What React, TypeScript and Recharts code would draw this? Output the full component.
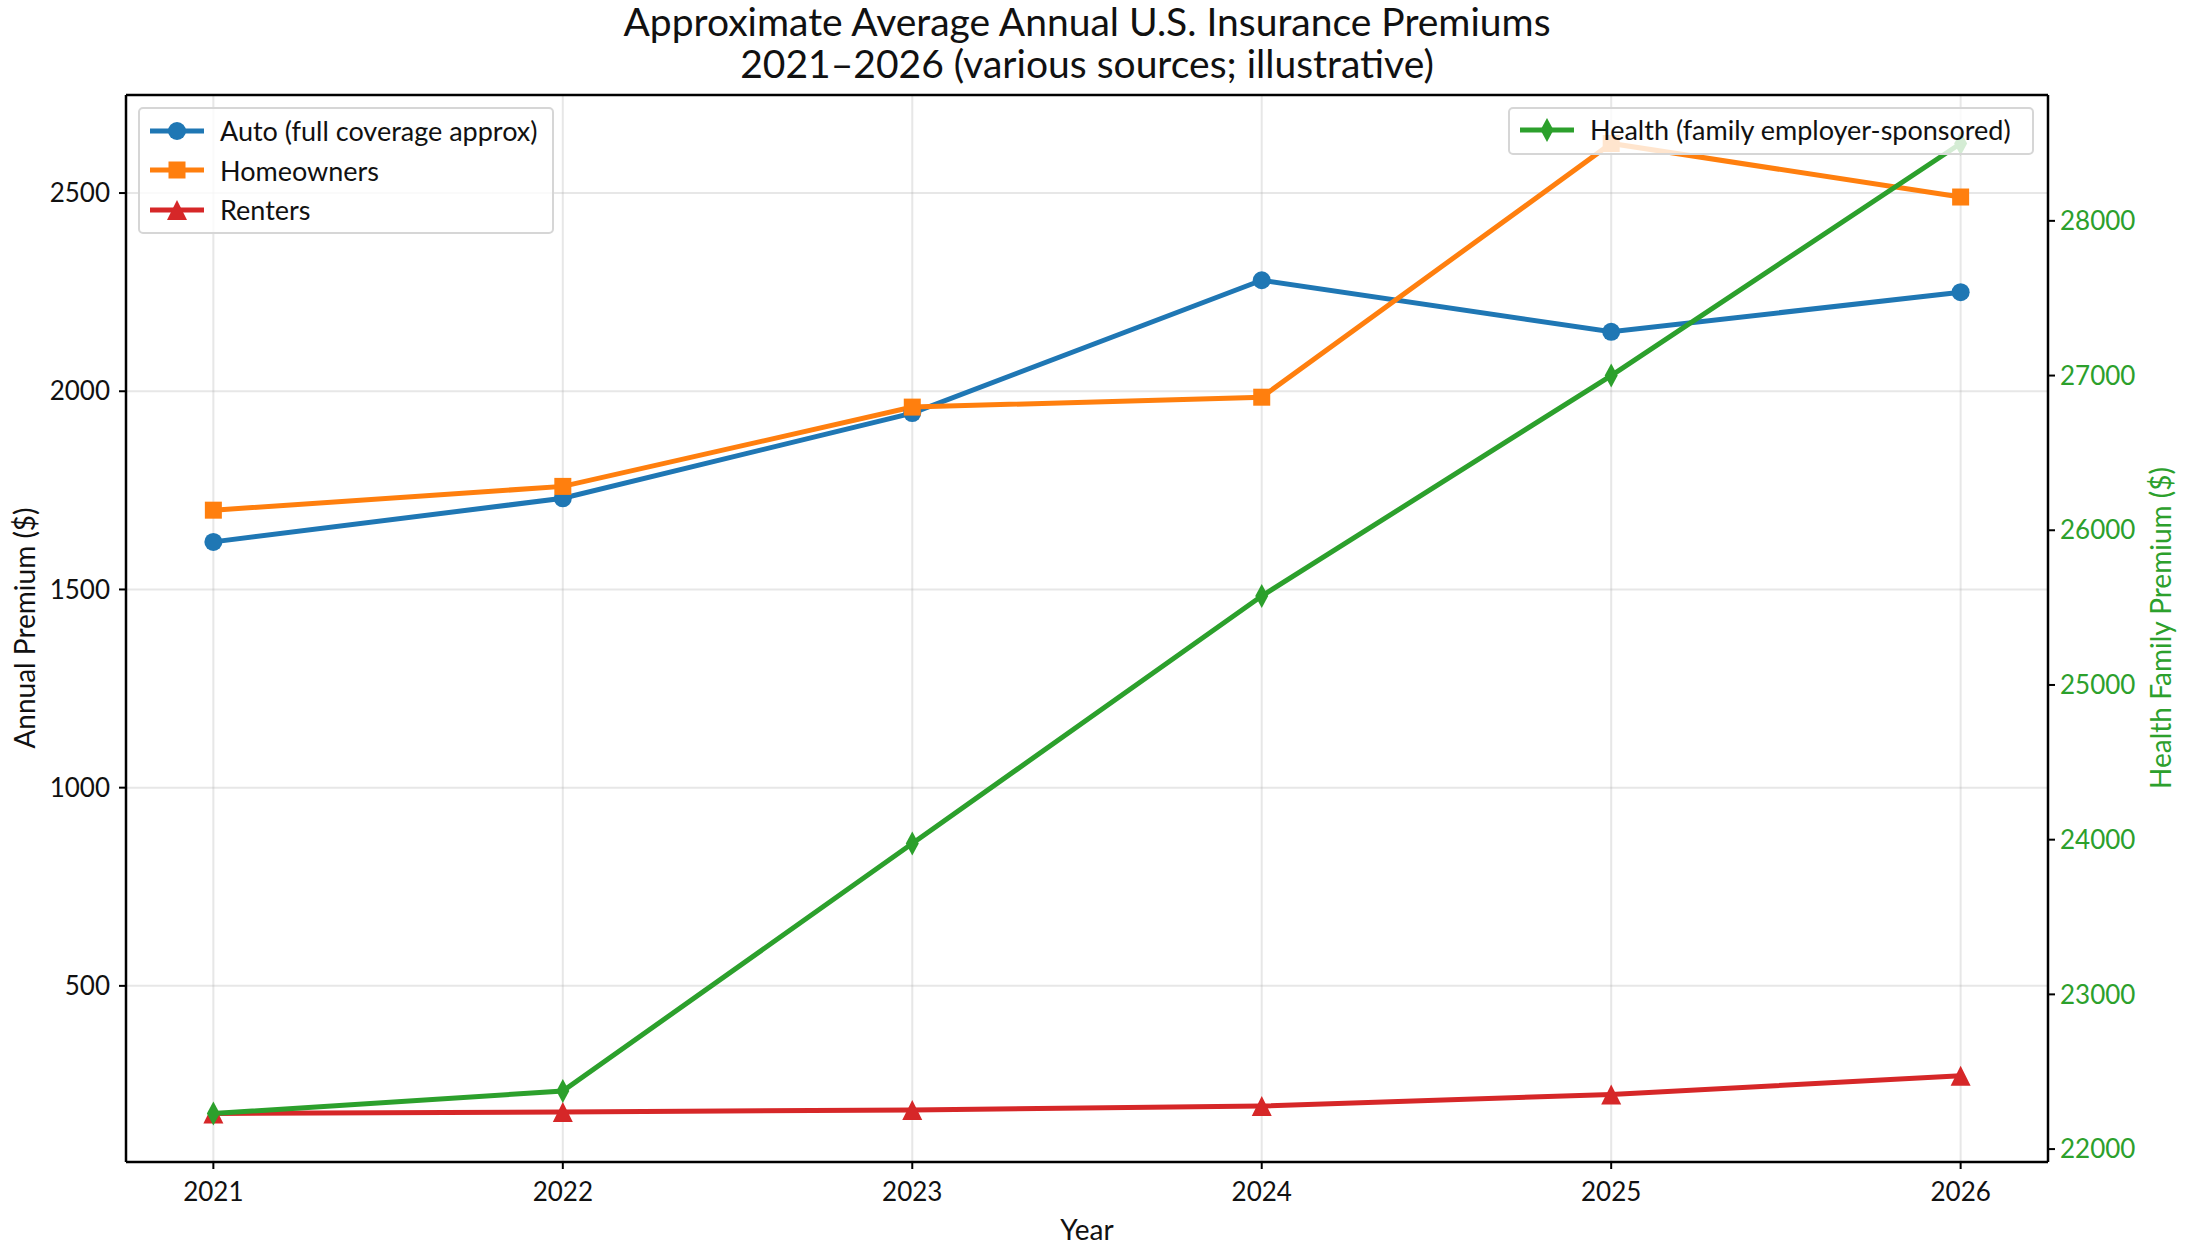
import React from 'react';
import {
  ComposedChart,
  Line,
  XAxis,
  YAxis,
  CartesianGrid,
  Legend,
  ReferenceLine
} from 'recharts';

const years = [2021, 2022, 2023, 2024, 2025, 2026];
const autoPremium = [1620, 1730, 1945, 2280, 2150, 2250];
const homeownersPremium = [1700, 1760, 1960, 1985, 2625, 2490];
const rentersPremium = [178, 182, 187, 197, 226, 273];
const healthPremium = [22230, 22375, 23975, 25575, 27000, 28500];

const leftTicks = [500, 1000, 1500, 2000, 2500];
const rightTicks = [22000, 23000, 24000, 25000, 26000, 27000, 28000];
const yearTicks = years;

const FONT = 'Lato, "Noto Sans", sans-serif';
const BLUE = '#1f77b4';
const ORANGE = '#ff7f0e';
const RED = '#d62728';
const GREEN = '#2ca02c';

const W = 2188;
const H = 1256;

const data = years.map((year, i) => ({
  year,
  auto: autoPremium[i],
  homeowners: homeownersPremium[i],
  renters: rentersPremium[i],
  health: healthPremium[i]
}));

// matplotlib-like 5% margins
const pad = (vals: number[]): [number, number] => {
  const lo = Math.min(...vals);
  const hi = Math.max(...vals);
  const m = (hi - lo) * 0.05;
  return [lo - m, hi + m];
};
const leftDomain = pad([...autoPremium, ...homeownersPremium, ...rentersPremium]);
const rightDomain = pad(healthPremium);
const xDomain: [number, number] = [years[0] - 0.25, years[years.length - 1] + 0.25];

type Shape = 'circle' | 'square' | 'triangle' | 'diamond';

const Marker = ({ cx, cy, shape, color }: { cx: number; cy: number; shape: Shape; color: string }) => {
  if (shape === 'circle') return <circle cx={cx} cy={cy} r={9} fill={color} />;
  if (shape === 'square') return <rect x={cx - 8.5} y={cy - 8.5} width={17} height={17} fill={color} />;
  if (shape === 'triangle')
    return <polygon points={`${cx},${cy - 10} ${cx - 10},${cy + 10} ${cx + 10},${cy + 10}`} fill={color} />;
  return <polygon points={`${cx},${cy - 12} ${cx - 6.5},${cy} ${cx},${cy + 12} ${cx + 6.5},${cy}`} fill={color} />;
};

const dotFor = (shape: Shape, color: string) => (props: any) => {
  const { cx, cy, index } = props;
  if (cx == null || cy == null) return <g key={`d-${shape}-${index}`} />;
  return (
    <g key={`d-${shape}-${index}`}>
      <Marker cx={cx} cy={cy} shape={shape} color={color} />
    </g>
  );
};

const shapeOf: Record<string, Shape> = {
  auto: 'circle',
  homeowners: 'square',
  renters: 'triangle',
  health: 'diamond'
};

const LegendRow = ({ name, color, shape }: { name: string; color: string; shape: Shape }) => (
  <div style={{ display: 'flex', alignItems: 'center', height: 39.5 }}>
    <svg width={58} height={30} style={{ flex: 'none' }}>
      <line x1={2} y1={15} x2={56} y2={15} stroke={color} strokeWidth={5} />
      <Marker cx={29} cy={15} shape={shape} color={color} />
    </svg>
    <span style={{ marginLeft: 14, whiteSpace: 'nowrap' }}>{name}</span>
  </div>
);

const boxStyle: React.CSSProperties = {
  position: 'absolute',
  top: 107,
  background: 'rgba(255,255,255,0.8)',
  border: '2px solid #d6d6d6',
  borderRadius: 5,
  padding: '2px 10px 4px 8px',
  fontFamily: FONT,
  fontSize: 27,
  color: '#111',
  boxSizing: 'border-box'
};

const TwoLegends = (props: any) => {
  const payload = (props.payload || []) as any[];
  const left = payload.filter(p => p.dataKey !== 'health');
  const right = payload.filter(p => p.dataKey === 'health');
  return (
    <div style={{ position: 'relative', width: W, height: H, pointerEvents: 'none' }}>
      <div style={{ ...boxStyle, left: 138, width: 416, height: 127 }}>
        {left.map(p => (
          <LegendRow key={p.dataKey} name={p.value} color={p.color} shape={shapeOf[p.dataKey]} />
        ))}
      </div>
      <div style={{ ...boxStyle, left: 1508, width: 526, height: 48, padding: '1px 10px 0 8px' }}>
        {right.map(p => (
          <LegendRow key={p.dataKey} name={p.value} color={p.color} shape={shapeOf[p.dataKey]} />
        ))}
      </div>
    </div>
  );
};

const AxisTitle = ({ x, y, text, color, rotate }: { x: number; y: number; text: string; color: string; rotate?: boolean }) => (
  <text
    x={x}
    y={y}
    fill={color}
    fontFamily={FONT}
    fontSize={28}
    textAnchor="middle"
    dominantBaseline="central"
    transform={rotate ? `rotate(-90 ${x} ${y})` : undefined}
  >
    {text}
  </text>
);

export default function App() {
  return (
    <div style={{ position: 'absolute', left: 0, top: 0, width: W, height: H, background: '#fff' }}>
      <div
        style={{
          position: 'absolute',
          left: 0,
          width: 2174,
          top: 0,
          textAlign: 'center',
          fontFamily: FONT,
          fontSize: 39,
          lineHeight: '42px',
          color: '#111',
          zIndex: 2
        }}
      >
        <div>Approximate Average Annual U.S. Insurance Premiums</div>
        <div>2021–2026 (various sources; illustrative)</div>
      </div>
      <ComposedChart width={W} height={H} data={data} margin={{ top: 95, right: 0, bottom: 34, left: 0 }}>
        <CartesianGrid
          yAxisId="left"
          stroke="#b0b0b0"
          strokeOpacity={0.3}
          strokeWidth={2}
          horizontalValues={leftTicks}
          verticalValues={yearTicks}
        />
        <XAxis
          dataKey="year"
          type="number"
          domain={xDomain}
          ticks={yearTicks}
          height={60}
          tickSize={7}
          tickMargin={14}
          stroke="#000"
          strokeWidth={2.5}
          tick={{ fill: '#111', fontFamily: FONT, fontSize: 26 }}
          tickLine={{ stroke: '#000', strokeWidth: 2 }}
          label={{ content: (p: any) => <AxisTitle x={1087} y={1229} text="Year" color="#111" /> }}
        />
        <YAxis
          yAxisId="left"
          domain={leftDomain}
          ticks={leftTicks}
          width={126}
          tickSize={7}
          tickMargin={9}
          stroke="#000"
          strokeWidth={2.5}
          tick={{ fill: '#111', fontFamily: FONT, fontSize: 26 }}
          tickLine={{ stroke: '#000', strokeWidth: 2 }}
          label={{
            content: (p: any) => <AxisTitle x={24} y={628} text="Annual Premium ($)" color="#111" rotate />
          }}
        />
        <YAxis
          yAxisId="right"
          orientation="right"
          domain={rightDomain}
          ticks={rightTicks}
          width={140}
          tickSize={7}
          tickMargin={5}
          stroke="#000"
          strokeWidth={2.5}
          tick={{ fill: GREEN, fontFamily: FONT, fontSize: 26 }}
          tickLine={{ stroke: '#000', strokeWidth: 2 }}
          label={{
            content: (p: any) => <AxisTitle x={2160} y={628} text="Health Family Premium ($)" color={GREEN} rotate />
          }}
        />
        <ReferenceLine yAxisId="left" y={leftDomain[1]} stroke="#000" strokeWidth={2.5} />
        <Line
          yAxisId="left"
          type="linear"
          dataKey="auto"
          name="Auto (full coverage approx)"
          stroke={BLUE}
          strokeWidth={5}
          dot={dotFor('circle', BLUE)}
          activeDot={false}
          isAnimationActive={false}
        />
        <Line
          yAxisId="left"
          type="linear"
          dataKey="homeowners"
          name="Homeowners"
          stroke={ORANGE}
          strokeWidth={5}
          dot={dotFor('square', ORANGE)}
          activeDot={false}
          isAnimationActive={false}
        />
        <Line
          yAxisId="left"
          type="linear"
          dataKey="renters"
          name="Renters"
          stroke={RED}
          strokeWidth={5}
          dot={dotFor('triangle', RED)}
          activeDot={false}
          isAnimationActive={false}
        />
        <Line
          yAxisId="right"
          type="linear"
          dataKey="health"
          name="Health (family employer-sponsored)"
          stroke={GREEN}
          strokeWidth={5}
          dot={dotFor('diamond', GREEN)}
          activeDot={false}
          isAnimationActive={false}
        />
        <Legend
          layout="vertical"
          align="center"
          verticalAlign="middle"
          wrapperStyle={{ left: 0, top: 0, width: W, height: H }}
          content={<TwoLegends />}
        />
      </ComposedChart>
    </div>
  );
}
